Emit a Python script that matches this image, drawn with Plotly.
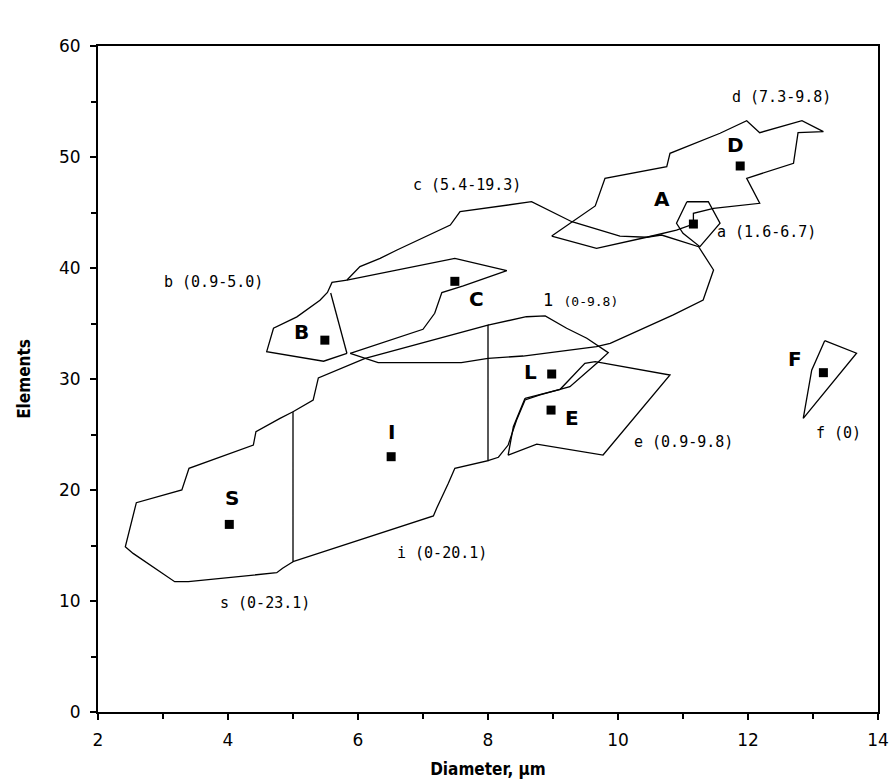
import plotly.graph_objects as go

# ---------------- data ----------------
# region outlines (Diameter, Elements)
s_x = [5.0, 4.80, 4.43, 4.39, 3.40, 3.29, 2.59, 2.42, 2.54, 3.18, 3.39, 4.75, 4.84, 5.0]
s_y = [27.05, 26.45, 25.25, 24.05, 21.95, 20.0, 18.86, 14.89, 14.29, 11.74, 11.74, 12.55, 12.95, 13.54]

i_x = [5.0, 5.31, 5.39, 6.11, 8.0, 8.0, 7.49, 7.39, 7.21, 7.16, 5.0, 5.0]
i_y = [27.05, 28.1, 30.1, 31.86, 34.86, 22.64, 21.95, 20.6, 18.35, 17.66, 13.54, 27.05]

l_x = [8.0, 8.59, 8.88, 9.21, 9.52, 9.72, 9.85, 9.70, 9.26, 8.80, 8.57, 8.44, 8.31, 8.16, 8.0]
l_y = [34.86, 35.61, 35.68, 34.57, 33.67, 32.91, 32.37, 31.56, 29.31, 28.56, 28.11, 26.31, 24.05, 22.95, 22.64]

e_x = [8.57, 9.11, 9.49, 9.65, 10.80, 9.77, 8.75, 8.31, 8.39, 8.57]
e_y = [28.26, 29.07, 31.41, 31.56, 30.36, 23.15, 24.14, 23.15, 25.7, 28.26]

b_x = [5.83, 5.60, 5.53, 5.415, 5.06, 4.70, 4.595, 5.47, 5.83]
b_y = [38.9, 38.7, 37.8, 37.1, 35.6, 34.57, 32.46, 31.6, 32.3]

bc_x = [5.58, 5.83]
bc_y = [37.75, 32.3]

csmall_x = [5.83, 7.49, 8.29, 7.62, 7.29, 7.18, 7.00, 5.88]
csmall_y = [38.9, 40.87, 39.76, 38.38, 37.78, 35.92, 34.48, 32.3]

c_x = [5.83, 6.03, 6.34, 6.60, 7.42, 7.57, 8.67, 9.29, 10.03, 10.44, 10.67, 11.24, 11.47,
       11.31, 10.85, 10.29, 9.88, 9.67, 8.54, 8.00, 7.59, 6.31, 5.88]
c_y = [38.92, 40.12, 40.87, 41.62, 43.87, 45.07, 45.97, 44.17, 42.88, 42.77, 42.97, 41.92, 39.82,
       37.12, 35.77, 34.26, 33.22, 32.91, 32.07, 31.86, 31.47, 31.47, 32.3]

d_x = [8.98, 9.26, 9.65, 9.80, 10.75, 10.80, 11.57, 11.98, 12.18, 12.83, 13.16, 12.77, 12.70,
       11.98, 12.18, 11.47, 11.16, 11.16, 10.90, 10.44, 9.67, 8.98]
d_y = [42.88, 44.03, 45.59, 48.08, 49.13, 50.33, 52.14, 53.27, 52.19, 53.27, 52.28, 52.19, 49.43,
       48.08, 45.83, 45.38, 44.93, 43.96, 43.42, 42.77, 41.77, 42.88]

a_x = [11.06, 11.39, 11.57, 11.26, 11.0, 10.90, 11.06]
a_y = [45.97, 45.97, 44.03, 41.92, 43.13, 44.03, 45.97]

f_x = [13.18, 13.67, 12.85, 12.98, 13.18]
f_y = [33.45, 32.32, 26.46, 30.8, 33.45]

# cluster centres
pt_names = ["S", "I", "B", "C", "L", "E", "A", "D", "F"]
pt_x = [4.02, 6.51, 5.49, 7.49, 8.98, 8.97, 11.16, 11.88, 13.16]
pt_y = [16.9, 23.0, 33.5, 38.8, 30.45, 27.2, 43.96, 49.19, 30.57]

# capital labels
cap_text = ["S", "I", "B", "C", "L", "E", "A", "D", "F"]
cap_x = [4.06, 6.52, 5.13, 7.83, 8.65, 9.29, 10.68, 11.80, 12.72]
cap_y = [19.25, 25.25, 34.26, 37.2, 30.66, 26.46, 46.2, 51.1, 31.78]

# region labels
reg_text = ["d (7.3-9.8)", "c (5.4-19.3)", "a (1.6-6.7)", "b (0.9-5.0)", "e (0.9-9.8)",
            "f (0)", "i (0-20.1)", "s (0-23.1)"]
reg_x = [12.52, 7.68, 12.29, 3.77, 11.0, 13.39, 7.29, 4.57]
reg_y = [55.4, 47.5, 43.2, 38.7, 24.3, 25.1, 14.3, 9.8]

l_label_x = 9.42
l_label_y = 37.1

x_ticks = [2, 4, 6, 8, 10, 12, 14]
y_ticks = [0, 10, 20, 30, 40, 50, 60]

# ---------------- figure ----------------
fig = go.Figure()
line_style = dict(color="black", width=1.3)
for xs, ys in [(s_x, s_y), (i_x, i_y), (l_x, l_y), (e_x, e_y), (b_x, b_y), (bc_x, bc_y),
               (csmall_x, csmall_y), (c_x, c_y), (d_x, d_y), (a_x, a_y), (f_x, f_y)]:
    fig.add_trace(go.Scatter(x=xs, y=ys, mode="lines", line=line_style,
                             hoverinfo="skip", showlegend=False))

fig.add_trace(go.Scatter(x=pt_x, y=pt_y, mode="markers", text=pt_names,
                         marker=dict(symbol="square", size=9, color="black"),
                         showlegend=False))

for t, x, y in zip(cap_text, cap_x, cap_y):
    fig.add_annotation(x=x, y=y, text="<b>" + t + "</b>", showarrow=False,
                       font=dict(family="DejaVu Sans", size=20, color="black"))
for t, x, y in zip(reg_text, reg_x, reg_y):
    fig.add_annotation(x=x, y=y, text=t, showarrow=False,
                       font=dict(family="DejaVu Sans Mono", size=15, color="black"))
fig.add_annotation(x=l_label_x, y=l_label_y,
                   text="1 <span style='font-size:13px'>(0-9.8)</span>", showarrow=False,
                   font=dict(family="DejaVu Sans Mono", size=17, color="black"))

fig.update_layout(
    width=891, height=782,
    margin=dict(l=98, r=13, t=46, b=70),
    paper_bgcolor="white", plot_bgcolor="white",
    font=dict(family="DejaVu Sans", size=15, color="black"),
)
fig.update_xaxes(
    range=[2, 14], tickvals=x_ticks, showgrid=False, zeroline=False, automargin=False,
    showline=True, linecolor="black", linewidth=2, mirror=True,
    ticks="outside", ticklen=6, tickwidth=2, tickcolor="black",
    minor=dict(dtick=1, ticks="outside", ticklen=5, tickwidth=2, tickcolor="black", showgrid=False),
    tickfont=dict(family="DejaVu Sans", size=17), ticklabelstandoff=6,
    title=dict(text="<b>Diameter, µm</b>", font=dict(family="DejaVu Sans Condensed", size=17), standoff=14),
)
fig.update_yaxes(
    range=[0, 60], tickvals=y_ticks, showgrid=False, zeroline=False, automargin=False,
    showline=True, linecolor="black", linewidth=2, mirror=True,
    ticks="outside", ticklen=6, tickwidth=2, tickcolor="black",
    minor=dict(dtick=5, ticks="outside", ticklen=5, tickwidth=2, tickcolor="black", showgrid=False),
    tickfont=dict(family="DejaVu Sans", size=17), ticklabelstandoff=6,
    title=dict(text="<b>Elements</b>", font=dict(family="DejaVu Sans Condensed", size=17), standoff=24),
)

fig.write_html("out.html")
